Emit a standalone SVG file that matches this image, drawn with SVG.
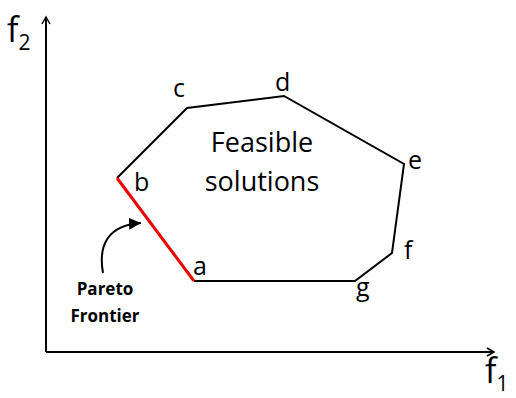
<svg xmlns="http://www.w3.org/2000/svg" width="516" height="398" viewBox="0 0 516 398">
<style>
.lbl{font-family:"Open Sans","Liberation Sans",sans-serif;font-size:25px;fill:#000}
.reg{font-family:"Open Sans","Liberation Sans",sans-serif;font-size:27px;fill:#000}
.ax{font-family:"Open Sans","Liberation Sans",sans-serif;font-size:34px;fill:#000}
.sub{font-size:21px}
.pf{font-family:"Open Sans","Liberation Sans",sans-serif;font-size:17px;font-weight:bold;fill:#000}
.ln{stroke:#000;stroke-width:2;fill:none}
</style>
<defs>
<marker id="ah" markerWidth="10" markerHeight="10" refX="8" refY="5" orient="auto" markerUnits="userSpaceOnUse">
<path d="M1,1 L8,5 L1,9" fill="none" stroke="#000" stroke-width="1.5"/>
</marker>
<marker id="fh" markerWidth="14" markerHeight="12" refX="12" refY="6" orient="auto" markerUnits="userSpaceOnUse">
<path d="M0,0 L12,6 L0,12 Z" fill="#000"/>
</marker>
</defs>
<g id="connectors">
<line class="ln" x1="46" y1="352" x2="46" y2="17" marker-end="url(#ah)"/>
<line class="ln" x1="46" y1="352" x2="494" y2="352" marker-end="url(#ah)"/>
<polyline class="ln" points="194,281 355,281 392,253 404,164 284,96 187,108 117,178"/>
<line x1="117" y1="178" x2="194" y2="281" stroke="#e00" stroke-width="3"/>
<path class="ln" d="M103,273 C98,245 108,225 141,223" marker-end="url(#fh)"/>
</g>
<g id="axis-f2"><text class="ax" x="7" y="42">f<tspan class="sub" dy="8">2</tspan></text></g>
<g id="axis-f1"><text class="ax" x="485" y="383">f<tspan class="sub" dy="8">1</tspan></text></g>
<g id="node-a"><text class="lbl" x="193" y="275">a</text></g>
<g id="node-b"><text class="lbl" x="134" y="191">b</text></g>
<g id="node-c"><text class="lbl" x="173" y="97">c</text></g>
<g id="node-d"><text class="lbl" x="275" y="91">d</text></g>
<g id="node-e"><text class="lbl" x="408" y="169">e</text></g>
<g id="node-f"><text class="lbl" x="404" y="259">f</text></g>
<g id="node-g"><text class="lbl" x="356" y="296">g</text></g>
<g id="region"><text class="reg" x="262" y="152" text-anchor="middle">Feasible</text><text class="reg" x="262" y="191" text-anchor="middle">solutions</text></g>
<g id="pareto-label"><text class="pf" x="105" y="295" text-anchor="middle">Pareto</text><text class="pf" x="105" y="322" text-anchor="middle">Frontier</text></g>
</svg>
